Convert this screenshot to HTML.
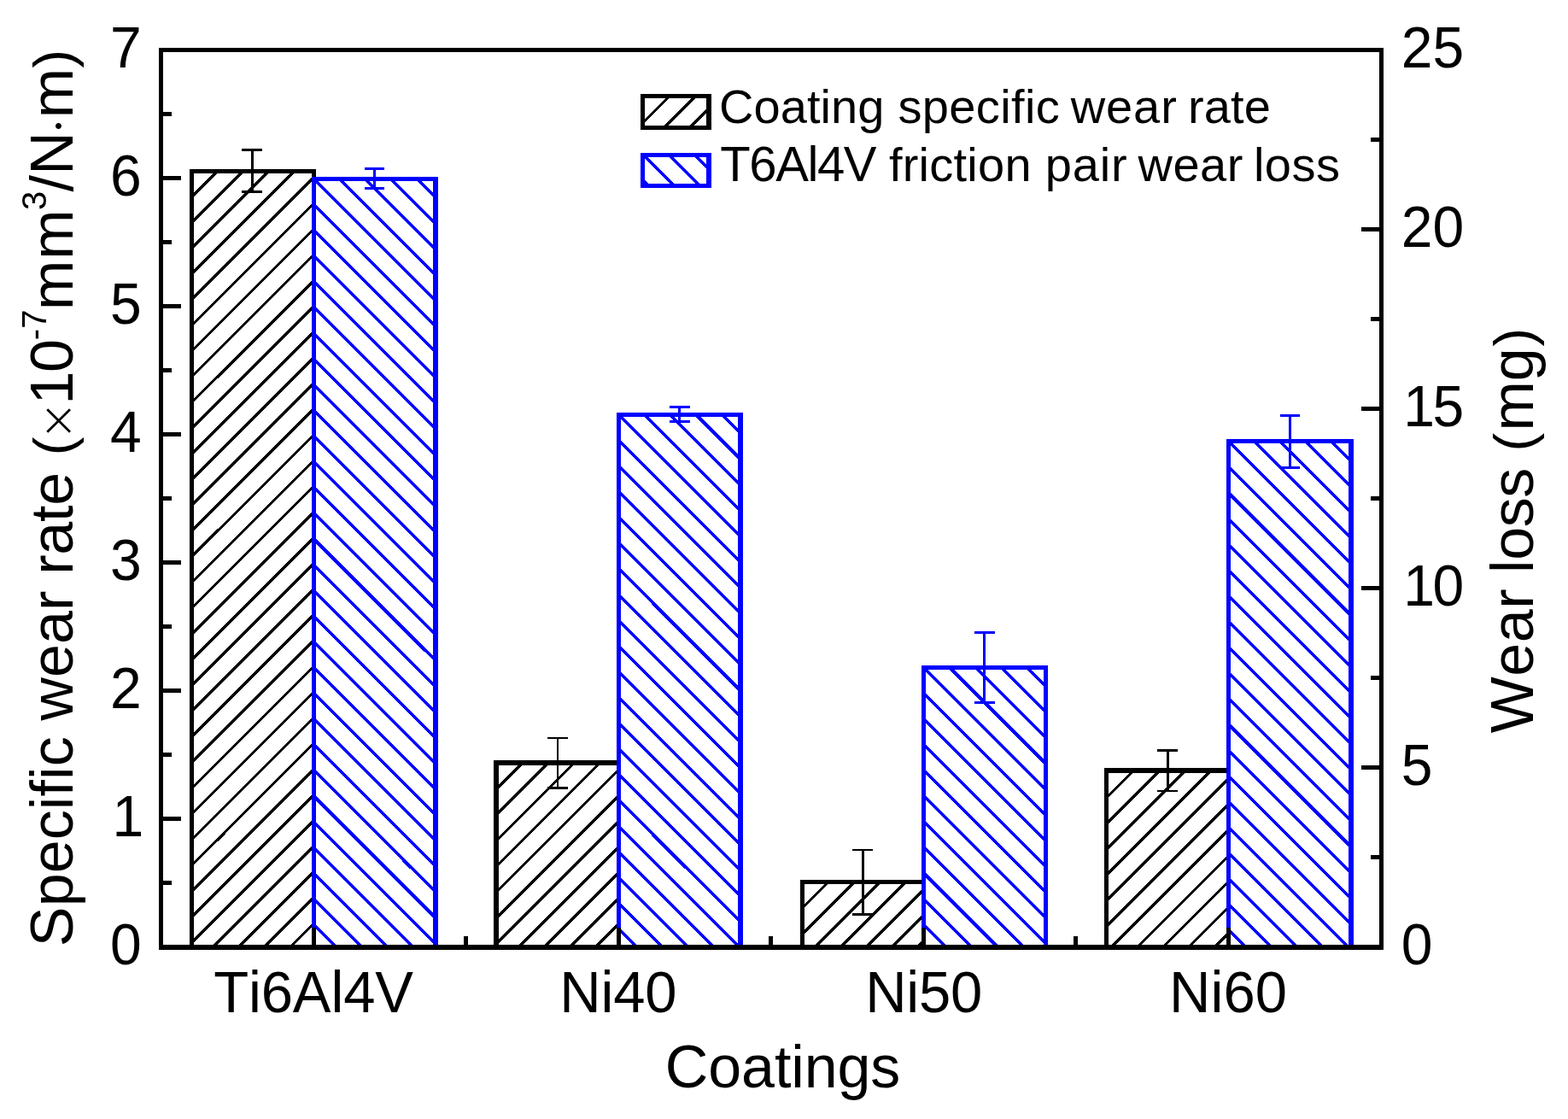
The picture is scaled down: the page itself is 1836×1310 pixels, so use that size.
<!DOCTYPE html>
<html lang="en">
<head>
<meta charset="utf-8">
<title>Specific wear rate and wear loss of coatings</title>
<style>
html,body{margin:0;padding:0;background:#fff}
body{width:1836px;height:1310px;overflow:hidden}
svg{display:block}
text{font-family:'Liberation Sans', sans-serif;fill:#000;font-kerning:none}
</style>
</head>
<body>
<svg width="1836" height="1310" viewBox="0 0 1836 1310" shape-rendering="crispEdges" role="img" aria-label="Bar chart: coating specific wear rate and T6Al4V friction pair wear loss for Ti6Al4V, Ni40, Ni50 and Ni60 coatings">
<rect x="0" y="0" width="1836" height="1310" fill="#fff"/>
<g id="bars">
<g class="bar-coating">
<path d="M226 228.81L252.81 202M226 258.92L282.92 202M226 289.03L313.03 202M226 319.14L343.14 202M226 349.25L366 209.25M226 379.36L366 239.36M226 409.47L366 269.47M226 439.58L366 299.58M226 469.69L366 329.69M226 499.8L366 359.8M226 529.91L366 389.91M226 560.02L366 420.02M226 590.13L366 450.13M226 620.24L366 480.24M226 650.35L366 510.35M226 680.46L366 540.46M226 710.57L366 570.57M226 740.68L366 600.68M226 770.79L366 630.79M226 800.9L366 660.9M226 831.01L366 691.01M226 861.12L366 721.12M226 891.23L366 751.23M226 921.34L366 781.34M226 951.45L366 811.45M226 981.56L366 841.56M226 1011.67L366 871.67M226 1041.78L366 901.78M226 1071.89L366 931.89M226 1102L366 962M248.11 1110L366 992.11M278.22 1110L366 1022.22M308.33 1110L366 1052.33M338.44 1110L366 1082.44" fill="none" stroke="#000" stroke-width="3.3"/>
<path fill-rule="evenodd" fill="#000" d="M222 198H370V1109H222ZM227 203H365V1109H227Z"/>
</g>
<g class="bar-pair">
<path d="M369 1084.09L394.91 1110M369 1053.98L425.02 1110M369 1023.87L455.13 1110M369 993.76L485.24 1110M369 963.65L508 1102.65M369 933.54L508 1072.54M369 903.43L508 1042.43M369 873.32L508 1012.32M369 843.21L508 982.21M369 813.1L508 952.1M369 782.99L508 921.99M369 752.88L508 891.88M369 722.77L508 861.77M369 692.66L508 831.66M369 662.55L508 801.55M369 632.44L508 771.44M369 602.33L508 741.33M369 572.22L508 711.22M369 542.11L508 681.11M369 512L508 651M369 481.89L508 620.89M369 451.78L508 590.78M369 421.67L508 560.67M369 391.56L508 530.56M369 361.45L508 500.45M369 331.34L508 470.34M369 301.23L508 440.23M369 271.12L508 410.12M369 241.01L508 380.01M369.1 211L508 349.9M399.21 211L508 319.79M429.32 211L508 289.68M459.43 211L508 259.57M489.54 211L508 229.46" fill="none" stroke="#00f" stroke-width="3.6"/>
<path fill-rule="evenodd" fill="#00f" d="M365 207H513V1109H365ZM370 212H507V1109H370Z"/>
</g>
<g class="bar-coating">
<path d="M583 922.21L610.21 895M583 952.32L640.32 895M583 982.43L670.43 895M583 1012.54L700.54 895M583 1042.65L723 902.65M583 1072.76L723 932.76M583 1102.87L723 962.87M605.98 1110L723 992.98M636.09 1110L723 1023.09M666.2 1110L723 1053.2M696.31 1110L723 1083.31" fill="none" stroke="#000" stroke-width="3.3"/>
<path fill-rule="evenodd" fill="#000" d="M578 890H727V1109H578ZM584 896H722V1109H584Z"/>
</g>
<g class="bar-pair">
<path d="M726 1089L747 1110M726 1058.89L777.11 1110M726 1028.78L807.22 1110M726 998.67L837.33 1110M726 968.56L865 1107.56M726 938.45L865 1077.45M726 908.34L865 1047.34M726 878.23L865 1017.23M726 848.12L865 987.12M726 818.01L865 957.01M726 787.9L865 926.9M726 757.79L865 896.79M726 727.68L865 866.68M726 697.57L865 836.57M726 667.46L865 806.46M726 637.35L865 776.35M726 607.24L865 746.24M726 577.13L865 716.13M726 547.02L865 686.02M726 516.91L865 655.91M726.2 487L865 625.8M756.31 487L865 595.69M786.42 487L865 565.58M816.53 487L865 535.47M846.64 487L865 505.36" fill="none" stroke="#00f" stroke-width="3.6"/>
<path fill-rule="evenodd" fill="#00f" d="M722 483H870V1109H722ZM727 488H864V1109H727Z"/>
</g>
<g class="bar-coating">
<path d="M941 1061.61L968.61 1034M941 1091.72L998.72 1034M952.83 1110L1028.83 1034M982.94 1110L1058.94 1034M1013.05 1110L1080 1043.05M1043.16 1110L1080 1073.16M1073.27 1110L1080 1103.27" fill="none" stroke="#000" stroke-width="3.3"/>
<path fill-rule="evenodd" fill="#000" d="M937 1030H1084V1109H937ZM942 1035H1079V1109H942Z"/>
</g>
<g class="bar-pair">
<path d="M1083 1083.7L1109.3 1110M1083 1053.59L1139.41 1110M1083 1023.48L1169.52 1110M1083 993.37L1199.63 1110M1083 963.26L1223 1103.26M1083 933.15L1223 1073.15M1083 903.04L1223 1043.04M1083 872.93L1223 1012.93M1083 842.82L1223 982.82M1083 812.71L1223 952.71M1083.4 783L1223 922.6M1113.51 783L1223 892.49M1143.62 783L1223 862.38M1173.73 783L1223 832.27M1203.84 783L1223 802.16" fill="none" stroke="#00f" stroke-width="3.6"/>
<path fill-rule="evenodd" fill="#00f" d="M1079 779H1227V1109H1079ZM1084 784H1222V1109H1084Z"/>
</g>
<g class="bar-coating">
<path d="M1297 932.61L1325.61 904M1297 962.72L1355.72 904M1297 992.83L1385.83 904M1297 1022.94L1415.94 904M1297 1053.05L1437 913.05M1297 1083.16L1437 943.16M1300.27 1110L1437 973.27M1330.38 1110L1437 1003.38M1360.49 1110L1437 1033.49M1390.6 1110L1437 1063.6M1420.71 1110L1437 1093.71" fill="none" stroke="#000" stroke-width="3.3"/>
<path fill-rule="evenodd" fill="#000" d="M1293 899H1441V1109H1293ZM1298 905H1436V1109H1298Z"/>
</g>
<g class="bar-pair">
<path d="M1440 1090.39L1459.61 1110M1440 1060.28L1489.72 1110M1440 1030.17L1519.83 1110M1440 1000.06L1549.94 1110M1440 969.95L1580 1109.95M1440 939.84L1580 1079.84M1440 909.73L1580 1049.73M1440 879.62L1580 1019.62M1440 849.51L1580 989.51M1440 819.4L1580 959.4M1440 789.29L1580 929.29M1440 759.18L1580 899.18M1440 729.07L1580 869.07M1440 698.96L1580 838.96M1440 668.85L1580 808.85M1440 638.74L1580 778.74M1440 608.63L1580 748.63M1440 578.52L1580 718.52M1440 548.41L1580 688.41M1440 518.3L1580 658.3M1469.81 518L1580 628.19M1499.92 518L1580 598.08M1530.03 518L1580 567.97M1560.14 518L1580 537.86" fill="none" stroke="#00f" stroke-width="3.6"/>
<path fill-rule="evenodd" fill="#00f" d="M1436 514H1585V1109H1436ZM1441 519H1579V1109H1441Z"/>
</g>
</g>
<g id="errorbars">
<path fill="#000" d="M283 174H307V177H283ZM283 223H307V226H283ZM294 174H297V226H294Z"/>
<path fill="#00f" d="M427 196H450V199H427ZM427 219H450V222H427ZM437 196H440V222H437Z"/>
<path fill="#000" d="M641 863H665V865H641ZM641 921H665V924H641ZM652 863H654V924H652Z"/>
<path fill="#00f" d="M784 475H808V478H784ZM784 492H808V495H784ZM794 475H797V495H794Z"/>
<path fill="#000" d="M998 994H1022V996H998ZM998 1069H1022V1072H998ZM1009 994H1012V1072H1009Z"/>
<path fill="#00f" d="M1141 739H1165V742H1141ZM1141 821H1165V824H1141ZM1151 739H1154V824H1151Z"/>
<path fill="#000" d="M1355 877H1379V880H1355ZM1355 925H1379V927H1355ZM1366 877H1369V927H1366Z"/>
<path fill="#00f" d="M1499 485H1522V488H1499ZM1499 546H1522V549H1499ZM1509 485H1512V549H1509Z"/>
</g>
<g id="axes" fill="#000">
<path fill-rule="evenodd" d="M186 56H1620V1112H186ZM191 61H1615V1106H191Z"/>
<path d="M191 131H201V136H191ZM191 206H212V211H191ZM191 281H201V286H191ZM191 356H212V361H191ZM191 431H201V436H191ZM191 506H212V511H191ZM191 581H201V586H191ZM191 656H212V661H191ZM191 731H201V736H191ZM191 806H212V811H191ZM191 881H201V886H191ZM191 956H212V961H191ZM191 1031H201V1036H191ZM1605 161H1615V166H1605ZM1594 266H1615V271H1594ZM1605 371H1615V376H1605ZM1594 476H1615V481H1594ZM1605 581H1615V586H1605ZM1594 686H1615V691H1594ZM1605 791H1615V796H1605ZM1594 896H1615V901H1594ZM1605 1001H1615V1006H1605ZM365 1086H370V1106H365ZM543 1096H548V1106H543ZM722 1086H727V1106H722ZM900 1096H905V1106H900ZM1079 1086H1084V1106H1079ZM1257 1096H1262V1106H1257ZM1436 1086H1441V1106H1436Z"/>
</g>
<g id="ticklabels" font-size="66">
<text transform="translate(165.6 1129) scale(1 1.03)" text-anchor="end">0</text>
<text transform="translate(168.1 979) scale(1 1.03)" text-anchor="end">1</text>
<text transform="translate(165.6 829) scale(1 1.03)" text-anchor="end">2</text>
<text transform="translate(165.6 679) scale(1 1.03)" text-anchor="end">3</text>
<text transform="translate(165.6 529) scale(1 1.03)" text-anchor="end">4</text>
<text transform="translate(165.6 379) scale(1 1.03)" text-anchor="end">5</text>
<text transform="translate(165.6 229) scale(1 1.03)" text-anchor="end">6</text>
<text transform="translate(165.6 79) scale(1 1.03)" text-anchor="end">7</text>
<text transform="translate(1640.8 1129) scale(1 1.03)">0</text>
<text transform="translate(1640.8 919) scale(1 1.03)">5</text>
<text transform="translate(1640.8 709) scale(1 1.03)"><tspan dx="2.5">1</tspan><tspan dx="-2.5">0</tspan></text>
<text transform="translate(1640.8 499) scale(1 1.03)"><tspan dx="2.5">1</tspan><tspan dx="-2.5">5</tspan></text>
<text transform="translate(1640.8 289) scale(1 1.03)">20</text>
<text transform="translate(1640.8 79) scale(1 1.03)">25</text>
</g>
<g id="xlabels" font-size="67">
<text transform="translate(250.15 1185) scale(1 1.03)" letter-spacing="-0.12">Ti6Al4V</text>
<text transform="translate(655.25 1185) scale(1 1.03)" letter-spacing="-0.17">Ni40</text>
<text transform="translate(1013.15 1185) scale(1 1.03)" letter-spacing="-0.23">Ni50</text>
<text transform="translate(1369.1 1185) scale(1 1.03)" letter-spacing="0.07">Ni60</text>
</g>
<g id="titles" font-size="70">
<text x="778.8" y="1273.3" letter-spacing="-0.11">Coatings</text>
<text transform="translate(85 0) rotate(-90)"><tspan x="-1108.15" y="0" letter-spacing="0.1">Specific </tspan><tspan x="-843.7" y="0" letter-spacing="0.13">wear </tspan><tspan x="-672.85" y="0" letter-spacing="-0.23">rate </tspan><tspan x="-533.25" y="0" font-size="65">(</tspan><tspan x="-515.4" y="0.6" font-size="55" style="font-family:'DejaVu Sans Light','DejaVu Sans',sans-serif;font-weight:200">×</tspan><tspan x="-473.48" y="0">1</tspan><tspan x="-436.05" y="0">0</tspan><tspan x="-398.17" y="-31" font-size="40">-</tspan><tspan x="-384.85" y="-31" font-size="40">7</tspan><tspan x="-362.95" y="0" letter-spacing="0.9">mm</tspan><tspan x="-245.9" y="-31" font-size="40">3</tspan><tspan x="-224.5" y="0" letter-spacing="0.2">/N</tspan><tspan x="-157.4" y="2.5" font-size="60" style="font-family:'Liberation Serif',serif">·</tspan><tspan x="-138.35" y="0">m</tspan><tspan x="-79.6" y="0" font-size="65">)</tspan></text>
<text transform="translate(1795.2 0) rotate(-90)"><tspan x="-858.3" y="0" letter-spacing="0.53">Wear </tspan><tspan x="-671.05" y="0" letter-spacing="-0.37">loss </tspan><tspan x="-528.4" y="0" font-size="65">(</tspan><tspan x="-504.4" y="0" letter-spacing="-0.2">mg</tspan><tspan x="-405.5" y="0" font-size="65">)</tspan></text>
</g>
<g id="legend" font-size="56">
<g class="legend-swatch">
<path d="M754 142.61L782.61 114M778.72 148L812.72 114M808.83 148L828 128.83" fill="none" stroke="#000" stroke-width="3.3"/>
<path fill-rule="evenodd" fill="#000" d="M750 110H833V152H750ZM755 115H827V147H755Z"/>
</g>
<g class="legend-swatch">
<path d="M754 212.11L757.89 216M755 183L788 216M785.11 183L818.11 216M815.22 183L828 195.78" fill="none" stroke="#00f" stroke-width="3.6"/>
<path fill-rule="evenodd" fill="#00f" d="M750 179H833V220H750ZM755 184H827V215H755Z"/>
</g>
<text><tspan x="842.1" y="144" letter-spacing="0.03">Coating </tspan><tspan x="1051.4" y="144" letter-spacing="0.37">specific </tspan><tspan x="1253.8" y="144" letter-spacing="0.87">wear </tspan><tspan x="1391.1" y="144" letter-spacing="0.07">rate</tspan></text>
<text><tspan x="843.25" y="212" font-size="58" letter-spacing="-1.38">T6Al4V </tspan><tspan x="1040.95" y="212" letter-spacing="0.24">friction </tspan><tspan x="1223.7" y="212" letter-spacing="0.87">pair </tspan><tspan x="1332.5" y="212" letter-spacing="0.47">wear </tspan><tspan x="1467.9" y="212" letter-spacing="0.47">loss</tspan></text>
</g>
</svg>
</body>
</html>
